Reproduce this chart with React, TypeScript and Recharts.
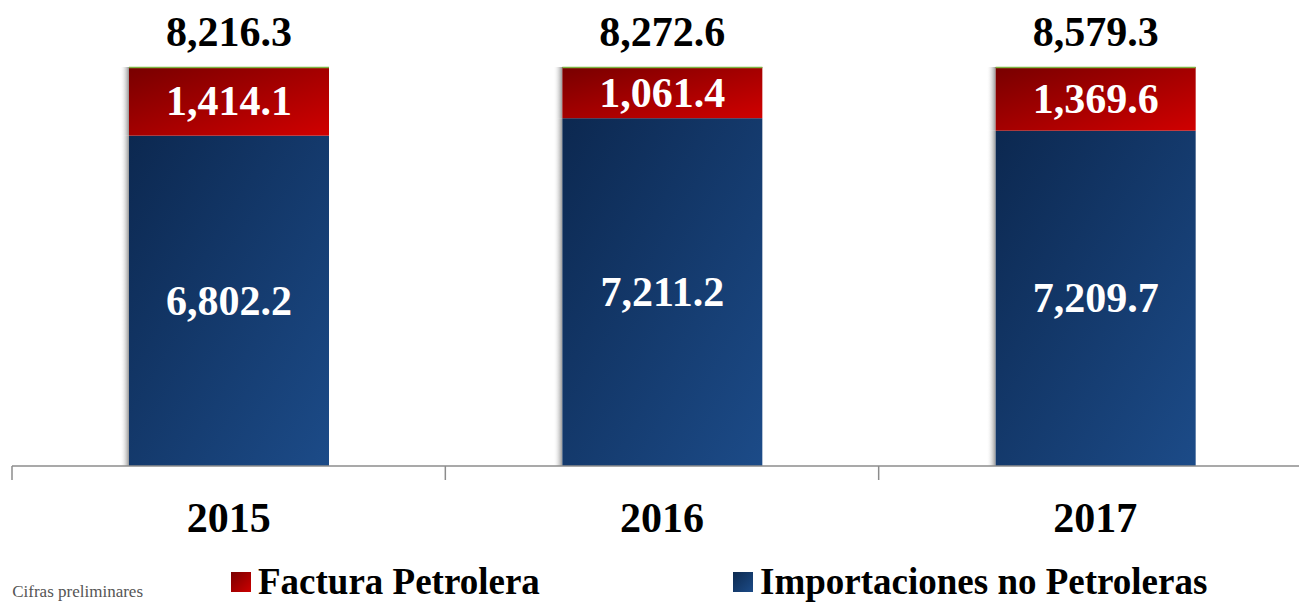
import { BarChart, Bar, XAxis, YAxis, LabelList } from 'recharts';

const years = ['2015', '2016', '2017'];
const noPetroleras = [6802.2, 7211.2, 7209.7];
const petrolera = [1414.1, 1061.4, 1369.6];
const totals = [8216.3, 8272.6, 8579.3];

const data = years.map((year, i) => ({
  year,
  noPetroleras: noPetroleras[i],
  petrolera: petrolera[i],
}));

const fmt = (v: number) =>
  v.toLocaleString('en-US', { minimumFractionDigits: 1, maximumFractionDigits: 1 });

const SERIF = '"Liberation Serif", "Times New Roman", serif';
const BAND = (1312 - 12) / 3;

function BarShadow({ x, y, height }: { x: number; y: number; height: number }) {
  return <rect x={x - 9} y={y} width={9} height={height} fill="url(#shadowGrad)" />;
}

function BlueShape(props: any) {
  const { x, y, width, height } = props;
  return (
    <g>
      <BarShadow x={x} y={y} height={height} />
      <rect x={x} y={y} width={width} height={height} fill="url(#blueGrad)" />
    </g>
  );
}

function RedShape(props: any) {
  const { x, y, width, height } = props;
  return (
    <g>
      <BarShadow x={x} y={y} height={height} />
      <rect x={x} y={y} width={width} height={height} fill="url(#redGrad)" />
      <line x1={x} x2={x + width} y1={y + 0.5} y2={y + 0.5} stroke="#7cb342" strokeWidth={1.5} />
    </g>
  );
}

function YearTick({ x, y, payload }: any) {
  return (
    <g>
      <line x1={x - BAND / 2} x2={x - BAND / 2} y1={y - 8} y2={y + 6} stroke="#8c8c8c" strokeWidth={1.5} />
      <text
        x={x}
        y={y + 58}
        textAnchor="middle"
        fontFamily={SERIF}
        fontWeight="bold"
        fontSize={42}
        fill="#000"
      >
        {payload.value}
      </text>
    </g>
  );
}

function inner(values: number[]) {
  return (props: any) => {
    const { x, y, width, height, index } = props;
    return (
      <text
        x={x + width / 2}
        y={y + height / 2 + 14}
        textAnchor="middle"
        fontFamily={SERIF}
        fontWeight="bold"
        fontSize={42}
        fill="#fff"
      >
        {fmt(values[index])}
      </text>
    );
  };
}

function TotalLabel(props: any) {
  const { x, y, width, index } = props;
  return (
    <text
      x={x + width / 2}
      y={y - 21}
      textAnchor="middle"
      fontFamily={SERIF}
      fontWeight="bold"
      fontSize={42}
      fill="#000"
    >
      {fmt(totals[index])}
    </text>
  );
}

const legendItems = [
  { name: 'Factura Petrolera', left: 231, bg: 'linear-gradient(135deg, #7a0000, #cc0000)' },
  { name: 'Importaciones no Petroleras', left: 733, bg: 'linear-gradient(135deg, #0d2a50, #1c4b87)' },
];

export default function App() {
  return (
    <div
      style={{
        position: 'absolute',
        left: 0,
        top: 0,
        width: 1299,
        height: 602,
        overflow: 'hidden',
        background: '#fff',
      }}
    >
      <BarChart
        width={1320}
        height={602}
        data={data}
        stackOffset="expand"
        barSize={200}
        margin={{ top: 67, right: 8, left: 12, bottom: 76 }}
      >
        <defs>
          <linearGradient id="blueGrad" x1="0" y1="0" x2="1" y2="1">
            <stop offset="0%" stopColor="#0c2850" />
            <stop offset="100%" stopColor="#1c4b88" />
          </linearGradient>
          <linearGradient id="redGrad" x1="0" y1="0" x2="1" y2="1">
            <stop offset="0%" stopColor="#780000" />
            <stop offset="100%" stopColor="#d00000" />
          </linearGradient>
          <linearGradient id="shadowGrad" x1="0" y1="0" x2="1" y2="0">
            <stop offset="0%" stopColor="#ffffff" stopOpacity={0} />
            <stop offset="100%" stopColor="#8a8a8a" stopOpacity={0.9} />
          </linearGradient>
        </defs>
        <XAxis
          dataKey="year"
          height={60}
          axisLine={{ stroke: '#8c8c8c', strokeWidth: 1.5 }}
          tickLine={false}
          tick={<YearTick />}
          interval={0}
        />
        <YAxis hide domain={[0, 1]} />
        <Bar dataKey="noPetroleras" stackId="a" shape={<BlueShape />} isAnimationActive={false}>
          <LabelList content={inner(noPetroleras)} />
        </Bar>
        <Bar dataKey="petrolera" stackId="a" shape={<RedShape />} isAnimationActive={false}>
          <LabelList content={inner(petrolera)} />
          <LabelList content={TotalLabel} />
        </Bar>
      </BarChart>

      {legendItems.map((item) => (
        <div
          key={item.name}
          style={{
            position: 'absolute',
            left: item.left,
            top: 563,
            display: 'flex',
            alignItems: 'center',
            fontFamily: SERIF,
            fontWeight: 'bold',
            fontSize: 37,
            lineHeight: '38px',
            color: '#000',
            whiteSpace: 'nowrap',
          }}
        >
          <span
            style={{
              display: 'inline-block',
              width: 20,
              height: 20,
              background: item.bg,
              marginRight: 7,
            }}
          />
          {item.name}
        </div>
      ))}

      <div
        style={{
          position: 'absolute',
          right: 1299 - 143,
          top: 582,
          fontFamily: SERIF,
          fontSize: 17,
          lineHeight: '19px',
          color: '#555',
          whiteSpace: 'nowrap',
        }}
      >
        Cifras preliminares
      </div>
    </div>
  );
}
